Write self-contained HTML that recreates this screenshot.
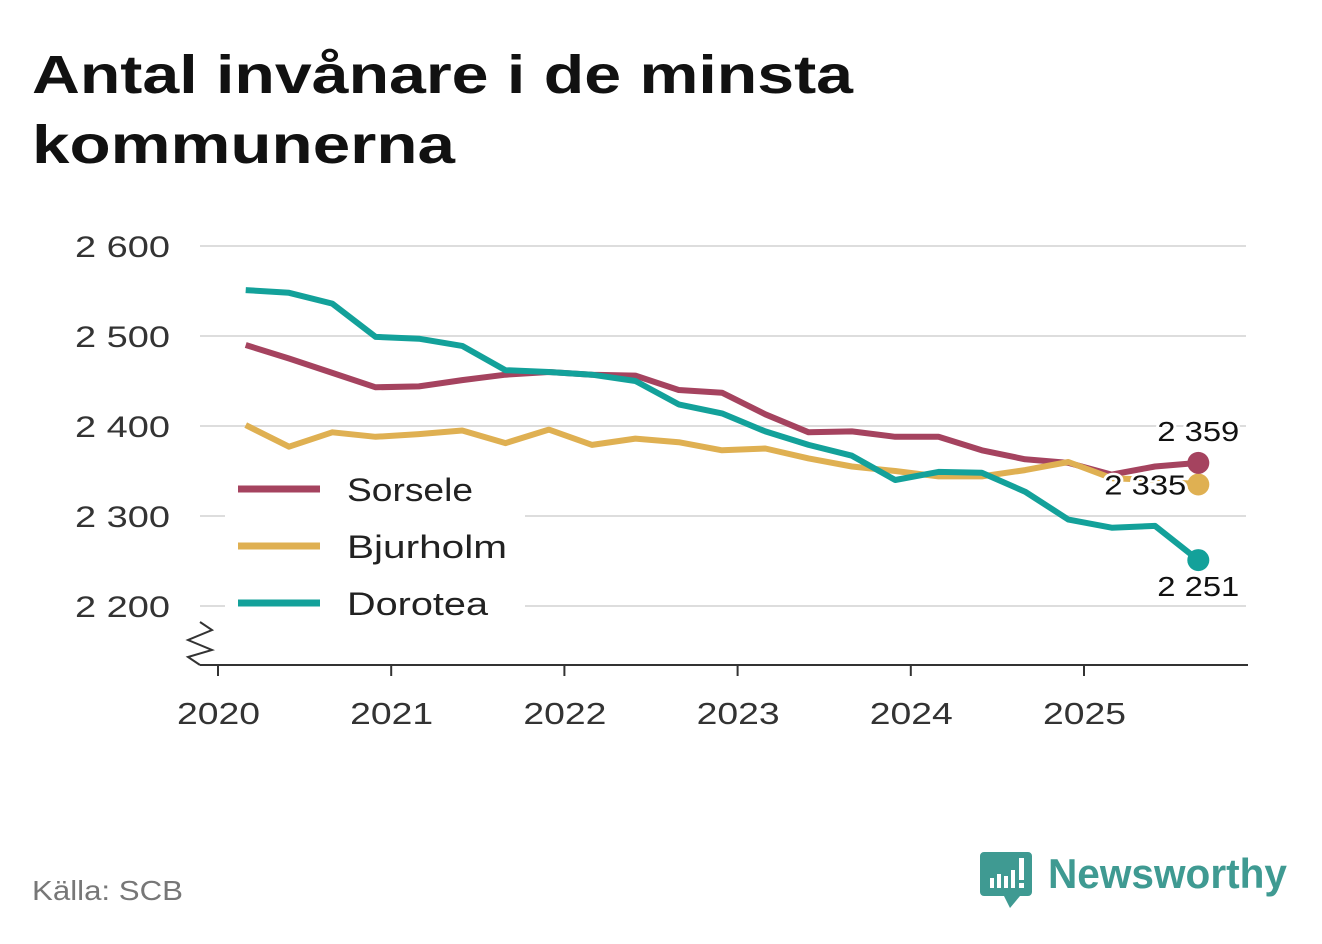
<!DOCTYPE html>
<html><head><meta charset="utf-8">
<style>
body{margin:0;background:#fff;width:1322px;height:939px;overflow:hidden;font-family:"Liberation Sans",sans-serif}
svg text{font-family:"Liberation Sans",sans-serif}
</style></head>
<body>
<svg width="1322" height="939">
<text x="32" y="93" font-size="54" font-weight="bold" fill="#111" textLength="821" lengthAdjust="spacingAndGlyphs">Antal invånare i de minsta</text>
<text x="32" y="163" font-size="54" font-weight="bold" fill="#111" textLength="423" lengthAdjust="spacingAndGlyphs">kommunerna</text>
<g id="grid"></g>
<g id="lines"></g>
<g id="legend">
<rect x="225" y="462" width="300" height="165" fill="#fff"/>
<line x1="238" y1="489" x2="320" y2="489" stroke="#a5435f" stroke-width="7"/>
<text x="347" y="501" font-size="32" fill="#222" textLength="126" lengthAdjust="spacingAndGlyphs">Sorsele</text>
<line x1="238" y1="546" x2="320" y2="546" stroke="#dfb052" stroke-width="7"/>
<text x="347" y="558" font-size="32" fill="#222" textLength="160" lengthAdjust="spacingAndGlyphs">Bjurholm</text>
<line x1="238" y1="603" x2="320" y2="603" stroke="#13a19a" stroke-width="7"/>
<text x="347" y="615" font-size="32" fill="#222" textLength="141" lengthAdjust="spacingAndGlyphs">Dorotea</text>
</g>
<text x="32" y="900" font-size="28" fill="#777" textLength="151" lengthAdjust="spacingAndGlyphs">Källa: SCB</text>
<g>
<path d="M984 852 h44 a4 4 0 0 1 4 4 v36 a4 4 0 0 1 -4 4 h-8 l-10 12 l-6 -12 h-20 a4 4 0 0 1 -4 -4 v-36 a4 4 0 0 1 4 -4z" fill="#3f9a92"/>
<rect x="990" y="878" width="4" height="10" fill="#fff"/><rect x="997" y="874" width="4" height="14" fill="#fff"/><rect x="1004" y="876" width="4" height="12" fill="#fff"/><rect x="1011" y="870" width="4" height="18" fill="#fff"/><rect x="1019" y="858" width="5" height="22" fill="#fff"/><rect x="1019" y="883" width="5" height="5" fill="#fff"/>
<text x="1048" y="888" font-size="42" font-weight="bold" fill="#3f9a92" textLength="239" lengthAdjust="spacingAndGlyphs">Newsworthy</text>
</g>
</svg>
<script>
const yTicks=[2200,2300,2400,2500,2600];
const yTickLabels=["2 200","2 300","2 400","2 500","2 600"];
const xTicks=[2020,2021,2022,2023,2024,2025];
const dates=[2020.16,2020.41,2020.66,2020.91,2021.16,2021.41,2021.66,2021.91,2022.16,2022.41,2022.66,2022.91,2023.16,2023.41,2023.66,2023.91,2024.16,2024.41,2024.66,2024.91,2025.16,2025.41,2025.66];
const sorsele=[2490,2475,2459,2443,2444,2451,2457,2460,2457,2456,2440,2437,2413,2393,2394,2388,2388,2373,2363,2359,2346,2355,2359];
const bjurholm=[2401,2377,2393,2388,2391,2395,2381,2396,2379,2386,2382,2373,2375,2364,2355,2350,2344,2344,2351,2360,2342,2340,2335];
const dorotea=[2551,2548,2536,2499,2497,2489,2462,2460,2457,2450,2424,2414,2394,2379,2367,2340,2349,2348,2327,2296,2287,2289,2251];
const NS="http://www.w3.org/2000/svg";
const xs=d=>218+(d-2020)*173.2;
const ys=v=>606-(v-2200)*0.9;
function mk(t,a,p){const e=document.createElementNS(NS,t);for(const k in a)e.setAttribute(k,a[k]);p.appendChild(e);return e;}
const g=document.getElementById('grid');
yTicks.forEach((v,i)=>{
 const l=mk('line',{x1:200,x2:1246,y1:ys(v),y2:ys(v),stroke:'#ddd','stroke-width':2},g);
 
 
 const t=mk('text',{x:75,y:ys(v)+11,'font-size':30,fill:'#333',textLength:95,lengthAdjust:'spacingAndGlyphs'},g);
 t.textContent=yTickLabels[i];
 
 
});
const ax=mk('line',{x1:200,x2:1248,y1:665,y2:665,stroke:'#333','stroke-width':2},g);


const br=mk('path',{d:'M200 622 L212 630 L188 640 L212 650 L188 657 L200 665',fill:'none',stroke:'#333','stroke-width':2},g);


xTicks.forEach(y=>{
 const tk=mk('line',{x1:xs(y),x2:xs(y),y1:665,y2:676,stroke:'#333','stroke-width':2},g);
 
 
 const t=mk('text',{x:xs(y)-41,y:724,'font-size':31,fill:'#333',textLength:83,lengthAdjust:'spacingAndGlyphs'},g);
 t.textContent=y;
 
 
});
const L=document.getElementById('lines');
const series=[[bjurholm,'#dfb052','bjurholm',26],[sorsele,'#a5435f','sorsele',-22],[dorotea,'#13a19a','dorotea',36]];
[[sorsele,'#a5435f','sorsele'],[bjurholm,'#dfb052','bjurholm'],[dorotea,'#13a19a','dorotea']].forEach(s=>{
 const p=mk('polyline',{points:s[0].map((v,i)=>xs(dates[i])+','+ys(v)).join(' '),fill:'none',stroke:s[1],'stroke-width':6,'stroke-linejoin':'round'},L);
 
 
});
series.forEach(s=>{
 const n=s[0].length-1,v=s[0][n];
 const c=mk('circle',{cx:xs(dates[n]),cy:ys(v),r:11,fill:s[1]},L);
 
 
});
series.forEach(s=>{
 const n=s[0].length-1,v=s[0][n];
 const lx=s[2]==='bjurholm'?xs(dates[n])-94:xs(dates[n])-41;
 const ly=s[2]==='bjurholm'?ys(v)+10:ys(v)+s[3];
 const t=mk('text',{x:lx,y:ly,'font-size':28,fill:'#111',stroke:'#fff','stroke-width':5,'paint-order':'stroke',textLength:82,lengthAdjust:'spacingAndGlyphs'},L);
 t.textContent=String(v).replace(/^(\d)(\d{3})$/,'$1 $2');
 
 
});
</script>
</body></html>
